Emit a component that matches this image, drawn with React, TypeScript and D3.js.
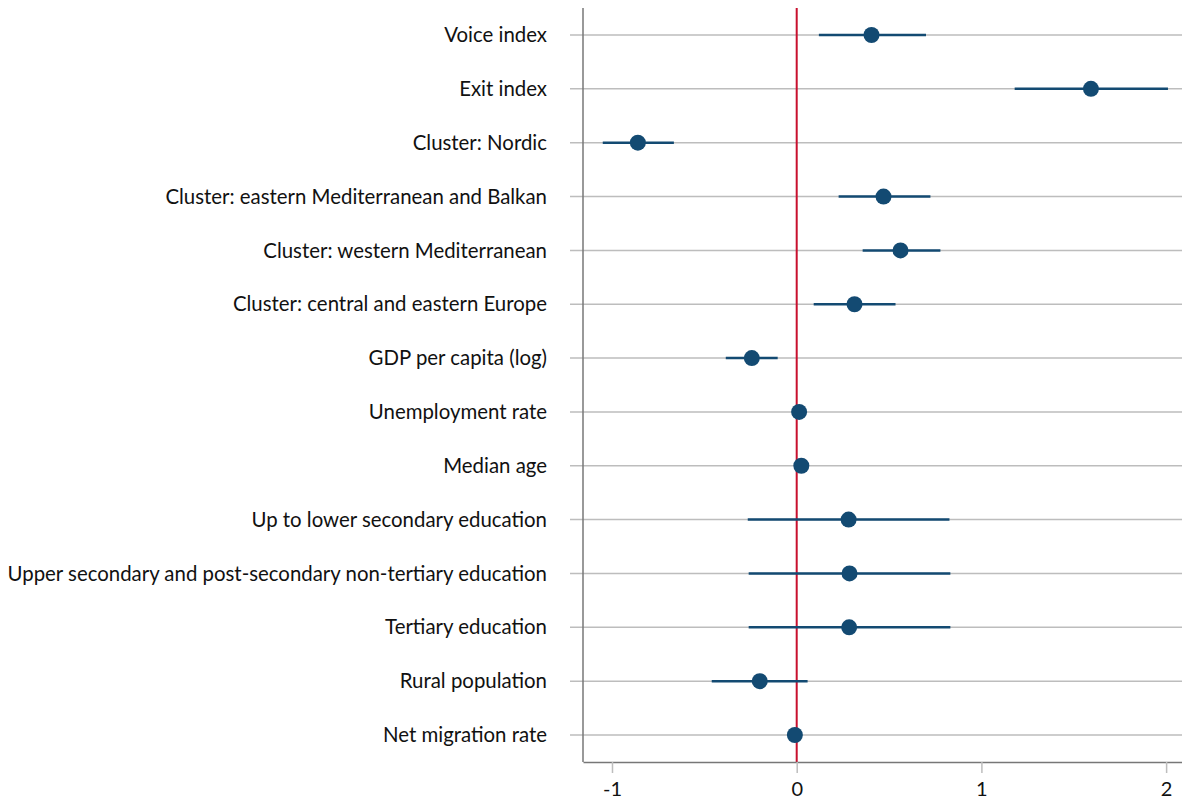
import React, { useRef, useEffect } from "react";
import * as d3 from "d3";

const labels = [
  "Voice index",
  "Exit index",
  "Cluster: Nordic",
  "Cluster: eastern Mediterranean and Balkan",
  "Cluster: western Mediterranean",
  "Cluster: central and eastern Europe",
  "GDP per capita (log)",
  "Unemployment rate",
  "Median age",
  "Up to lower secondary education",
  "Upper secondary and post-secondary non-tertiary education",
  "Tertiary education",
  "Rural population",
  "Net migration rate",
];
const estimates = [0.405, 1.593, -0.86, 0.47, 0.562, 0.313, -0.243, 0.013, 0.025, 0.281, 0.286, 0.284, -0.2, -0.01];
const lower = [0.12, 1.18, -1.05, 0.227, 0.357, 0.092, -0.384, 0.005, 0.018, -0.265, -0.26, -0.26, -0.46, -0.018];
const upper = [0.7, 2.01, -0.665, 0.724, 0.778, 0.535, -0.103, 0.021, 0.032, 0.827, 0.832, 0.832, 0.059, -0.002];
const xTicks = [-1, 0, 1, 2];

const width = 1182;
const height = 800;
const marginLeft = 583;
const marginRight = 0;
const marginTop = 8;
const marginBottom = 38;

const App = () => {
  const svgRef = useRef<SVGSVGElement | null>(null);

  useEffect(() => {
    const svg = d3.select(svgRef.current);
    svg.selectAll("*").remove();

    const font = "'Source Sans Pro', Lato, 'Noto Sans', sans-serif";

    const x = d3.scaleLinear()
      .domain([-1.157, 2.086])
      .range([marginLeft, width - marginRight]);

    const y = d3.scalePoint()
      .domain(labels)
      .range([35, 735]);

    const axisY = height - marginBottom;

    // Gridlines with small ticks left of the axis
    svg.append("g")
      .selectAll("line")
      .data(labels)
      .join("line")
      .attr("x1", marginLeft - 13)
      .attr("x2", width)
      .attr("y1", d => y(d)!)
      .attr("y2", d => y(d)!)
      .attr("stroke", "#bdbdbd")
      .attr("stroke-width", 1.5);

    // Category labels
    svg.append("g")
      .selectAll("text")
      .data(labels)
      .join("text")
      .attr("x", 547)
      .attr("y", d => y(d)!)
      .attr("dy", "0.35em")
      .attr("text-anchor", "end")
      .attr("font-family", font)
      .attr("font-size", 20.4)
      .attr("fill", "#111")
      .text(d => d);

    // Zero reference line
    svg.append("line")
      .attr("x1", x(0))
      .attr("x2", x(0))
      .attr("y1", marginTop)
      .attr("y2", axisY)
      .attr("stroke", "#c8102e")
      .attr("stroke-width", 2);

    // Confidence intervals
    svg.append("g")
      .selectAll("line")
      .data(labels)
      .join("line")
      .attr("x1", (_, i) => x(lower[i]))
      .attr("x2", (_, i) => x(upper[i]))
      .attr("y1", d => y(d)!)
      .attr("y2", d => y(d)!)
      .attr("stroke", "#134a72")
      .attr("stroke-width", 2.5);

    // Point estimates
    svg.append("g")
      .selectAll("circle")
      .data(labels)
      .join("circle")
      .attr("cx", (_, i) => x(estimates[i]))
      .attr("cy", d => y(d)!)
      .attr("r", 8)
      .attr("fill", "#134a72");

    // Axes
    svg.append("line")
      .attr("x1", marginLeft)
      .attr("x2", marginLeft)
      .attr("y1", marginTop)
      .attr("y2", axisY)
      .attr("stroke", "#777")
      .attr("stroke-width", 1.5);

    const xg = svg.append("g")
      .attr("transform", `translate(0,${axisY})`)
      .call(d3.axisBottom(x).tickValues(xTicks).tickSize(11).tickSizeOuter(0).tickFormat(d => String(d)));
    xg.select(".domain").attr("stroke", "#777").attr("stroke-width", 1.5);
    xg.selectAll(".tick line").attr("stroke", "#bdbdbd").attr("stroke-width", 1.5);
    xg.selectAll(".tick text")
      .attr("font-family", font)
      .attr("font-size", 20)
      .attr("fill", "#111")
      .attr("dy", "1em");
  }, []);

  return (
    <svg
      ref={svgRef}
      width={width}
      height={height}
      style={{ position: "absolute", left: 0, top: 0, background: "#fff" }}
    />
  );
};

export default App;
